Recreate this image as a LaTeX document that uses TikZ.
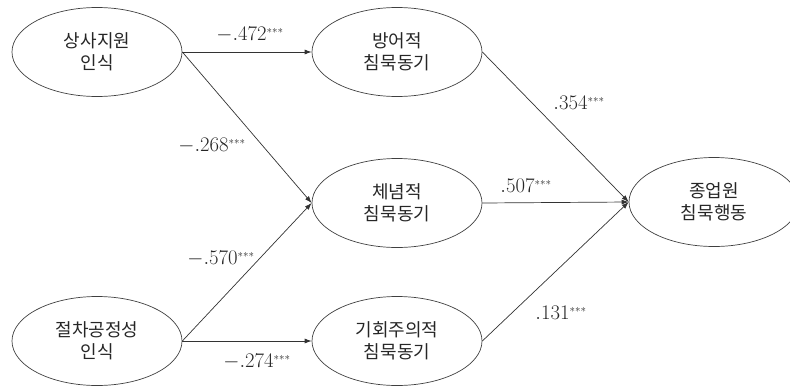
\documentclass[tikz,border=0pt]{standalone}
\usepackage{fontspec}
\newfontfamily\kr{Noto Sans CJK KR}
\usetikzlibrary{shapes.geometric,arrows.meta}
\newcommand{\sig}{^{\scriptscriptstyle ***}}
\begin{document}
\begin{tikzpicture}[x=1pt,y=-1pt,
  var/.style={ellipse,draw=black!75,line width=0.7pt,minimum width=170pt,minimum height=89pt,inner sep=0pt,align=center,font=\kr\fontsize{18}{21.5}\selectfont,text=black!85},
  path/.style={draw=black!80,line width=0.7pt,-{Latex[length=7pt,width=5pt]}},
  coef/.style={font=\fontsize{21.5}{22}\selectfont,text=black!85,inner sep=0pt}]
\useasboundingbox (0,0) rectangle (790,388);
\node[var] (A) at (97,52) {상사지원\\인식};
\node[var] (B) at (397,52) {방어적\\침묵동기};
\node[var] (C) at (397,203) {체념적\\침묵동기};
\node[var] (D) at (714,202) {종업원\\침묵행동};
\node[var] (E) at (97,341) {절차공정성\\인식};
\node[var] (F) at (397,341) {기회주의적\\침묵동기};
\draw[path] (A.east) -- (B.west);
\draw[path] (A.east) -- (C.west);
\draw[path] (E.east) -- (C.west);
\draw[path] (E.east) -- (F.west);
\draw[path] (B.east) -- (D.west);
\draw[path] (C.east) -- (D.west);
\draw[path] (F.east) -- (D.west);
\node[coef] (l1) at (250,35) {$-.472\sig$};
\node[coef] (l2) at (212,146) {$-.268\sig$};
\node[coef] (l3) at (221,259) {$-.570\sig$};
\node[coef] (l4) at (257,362) {$-.274\sig$};
\node[coef] (l5) at (579,103) {$.354\sig$};
\node[coef] (l6) at (526,186) {$.507\sig$};
\node[coef] (l7) at (561,313) {$.131\sig$};
\end{tikzpicture}
\end{document}
